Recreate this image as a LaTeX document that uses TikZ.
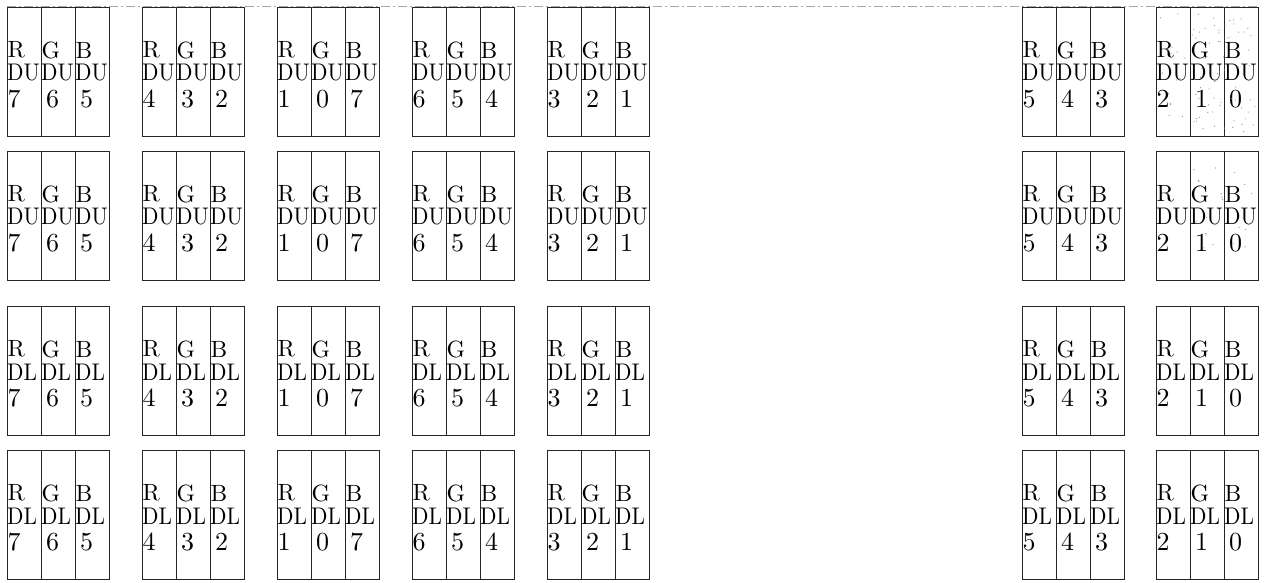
\documentclass[tikz,border=0pt]{standalone}
\usepackage{fontspec}
\setmainfont{lmroman10-regular.otf}
\begin{document}
\begin{tikzpicture}[x=1pt,y=-1pt,
  cellbox/.style={draw=black!85, line width=0.9pt, rectangle, inner sep=0pt,
    minimum width=34pt, minimum height=129pt, anchor=north west},
  bigletter/.style={inner sep=0pt, anchor=west, font=\fontsize{23.5}{24}\selectfont},
  siglabel/.style={inner sep=0pt, anchor=west, font=\fontsize{21.5}{22}\selectfont},
  numlabel/.style={inner sep=0pt, anchor=west, font=\fontsize{26}{26}\selectfont},
  stipple/.style={fill=black!45},
  edgeline/.style={draw=black!35, line width=0.5pt, dash pattern=on 9pt off 3pt on 2pt off 3pt}]
\useasboundingbox (0,0) rectangle (1264,582);
\draw[edgeline] (7,6) -- (1258,6);
\foreach \row/\top/\sig in {1/7/DU,2/151/DU,3/306/DL,4/450/DL} {
  \foreach \blk/\lft/\na/\nb/\nc in {1/7/7/6/5,2/142/4/3/2,3/277/1/0/7,4/412/6/5/4,5/547/3/2/1,6/1022/5/4/3,7/1156/2/1/0} {
    \foreach \col/\ch/\num in {0/R/\na,1/G/\nb,2/B/\nc} {
      \pgfmathsetmacro\cx{\lft+34*\col}
      \pgfmathsetmacro\dx{ifthenelse(\col==0,0.5,5)}
      \node[cellbox] (c-\row-\blk-\col) at (\cx,\top) {};
      \node[bigletter] (l-\row-\blk-\col) at (\cx+0.5,\top+43) {\ch};
      \node[siglabel] (s-\row-\blk-\col) at (\cx,\top+66) {\scalebox{1.0}[1.12]{\sig}};
      \node[numlabel] (n-\row-\blk-\col) at (\cx+\dx,\top+92) {\num};
    }
  }
}
\pgfmathsetseed{7}
\foreach \i in {1,...,70} {
  \pgfmathsetmacro\px{1192+64*rnd}
  \pgfmathsetmacro\py{12+120*rnd}
  \fill[stipple] (\px,\py) circle (0.6);
}
\foreach \i in {1,...,15} {
  \pgfmathsetmacro\px{1160+28*rnd}
  \pgfmathsetmacro\py{12+120*rnd}
  \fill[stipple] (\px,\py) circle (0.6);
}
\foreach \i in {1,...,22} {
  \pgfmathsetmacro\px{1194+62*rnd}
  \pgfmathsetmacro\py{158+90*rnd}
  \fill[stipple] (\px,\py) circle (0.6);
}
\end{tikzpicture}
\end{document}
